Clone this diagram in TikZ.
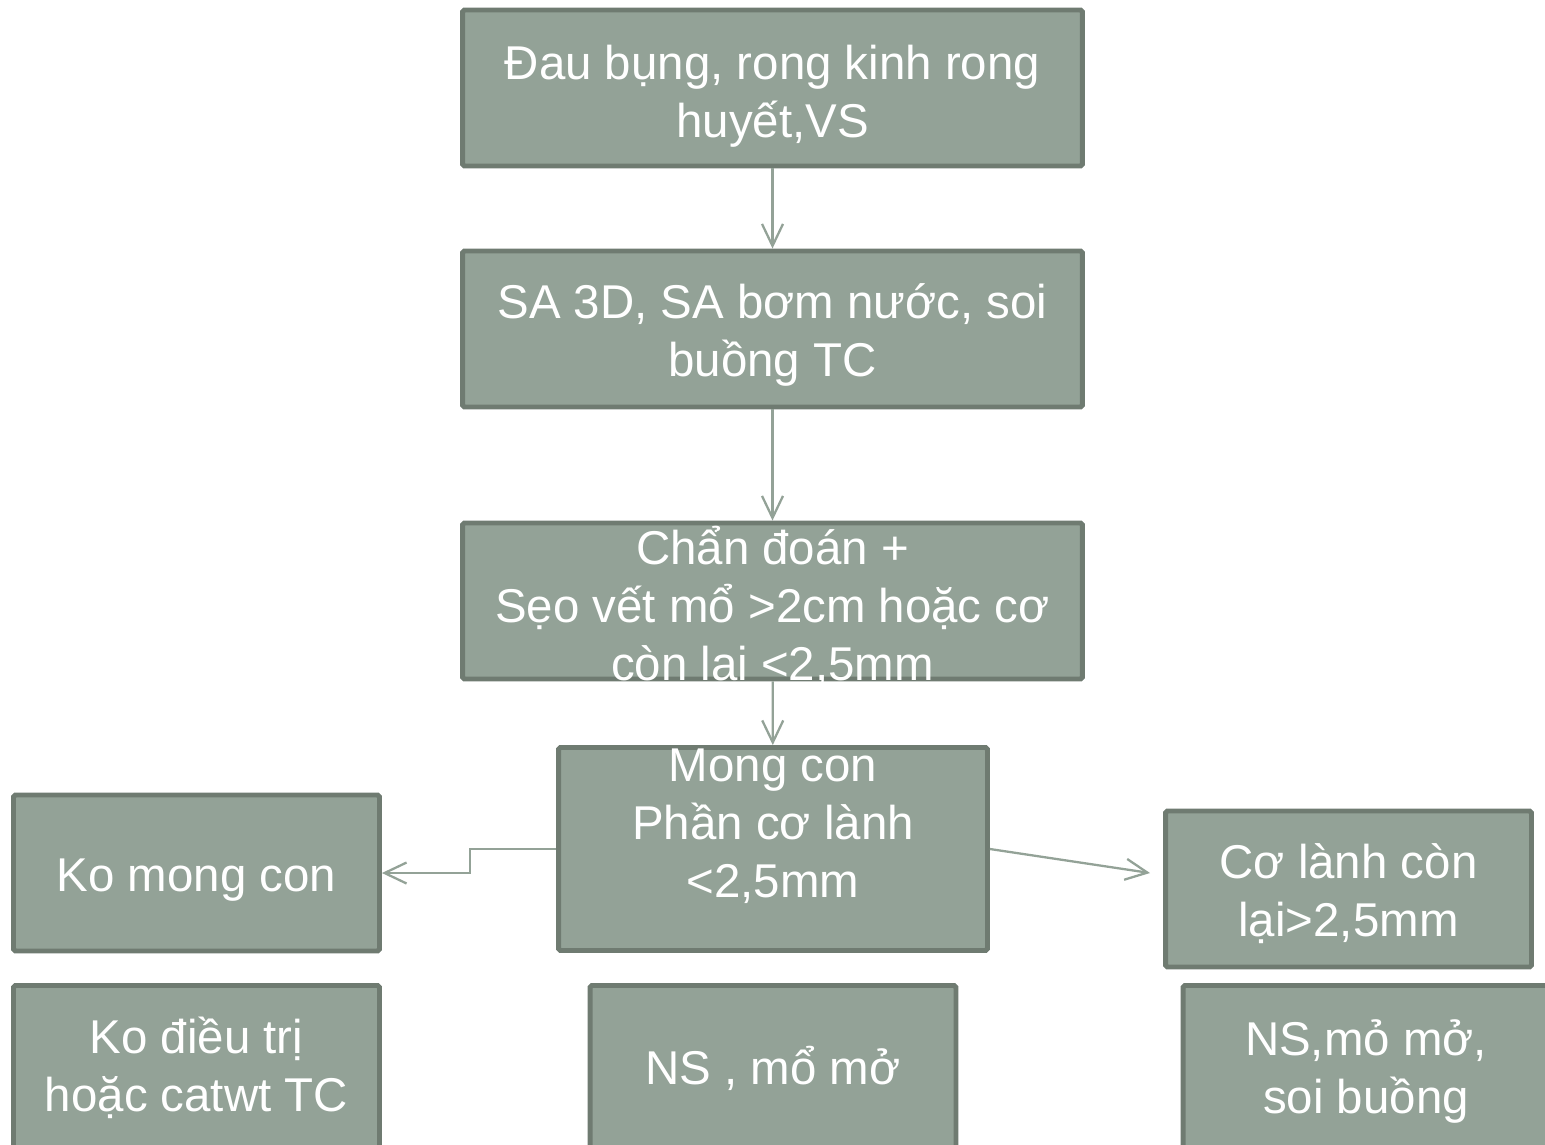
\documentclass[tikz,border=0pt]{standalone}
\usepackage{fontspec}
\setmainfont{Liberation Sans}
\usepackage{xcolor}
\usepackage{tikz}
\usetikzlibrary{positioning}
\usetikzlibrary{arrows.meta}

\definecolor{boxfill}{HTML}{93A297}
\definecolor{boxline}{HTML}{6F7B71}

\begin{document}
\begin{tikzpicture}[x=0.02cm,y=-0.02cm,
    box/.style={draw=boxline, fill=boxfill, line width=2.8pt, rounded corners=1pt,
      inner sep=0pt, minimum width=12.4cm, minimum height=3.12cm},
    smallbox/.style={box, minimum width=7.32cm},
    txt/.style={text=white, align=center, inner sep=0pt, font=\fontsize{27}{33}\selectfont},
    say/.style 2 args={label={[txt,yshift=#1]center:{#2}}},
    conn/.style={draw=boxfill, line width=1.3pt, -{Straight Barb[length=0.44cm,width=0.42cm]}}]
      \useasboundingbox (0,0) rectangle (1545,1144);
      % main column
      \node[box, say={-0.16cm}{Đau bụng, rong kinh rong\\huyết,VS}] (dau) at (772.5,88) {};
      \node[box, say={-0.11cm}{SA 3D, SA bơm nước, soi\\buồng TC}] (sa) at (772.5,329) {};
      \node[box, say={-0.11cm}{Chẩn đoán +\\Sẹo vết mổ >2cm hoặc cơ\\còn lại <2,5mm}] (chan) at (772.5,601) {};
      \node[box, minimum width=8.58cm, minimum height=4.06cm,
        say={0.46cm}{Mong con\\Phần cơ lành\\<2,5mm}] (mong) at (773,849) {};
      % side branches
      \node[smallbox, say={-0.14cm}{Ko mong con}] (ko) at (196.5,873) {};
      \node[smallbox, say={-0.09cm}{Cơ lành còn\\lại>2,5mm}] (co) at (1348.5,889) {};
      % treatments (cut off by the lower edge)
      \node[smallbox, minimum height=3.3cm, say={0cm}{Ko điều trị\\hoặc catwt TC}] (kodt) at (196.5,1068) {};
      \node[smallbox, minimum height=3.3cm, say={0cm}{NS , mổ mở}] (ns) at (773,1068) {};
      \node[smallbox, minimum height=3.3cm, say={-0.06cm}{NS,mỏ mở,\\soi buồng}] (nsm) at (1366,1068) {};
      \coordinate (coin) at (1150,873);
      % connectors
      \draw[conn] (dau) -- (sa);
      \draw[conn] (sa) -- (chan);
      \draw[conn] (chan) -- (mong);
      \draw[conn] (mong.west) -- ++(-86,0) |- (ko.east);
      \draw[conn] (mong.east) -- (coin);
\end{tikzpicture}
\end{document}
